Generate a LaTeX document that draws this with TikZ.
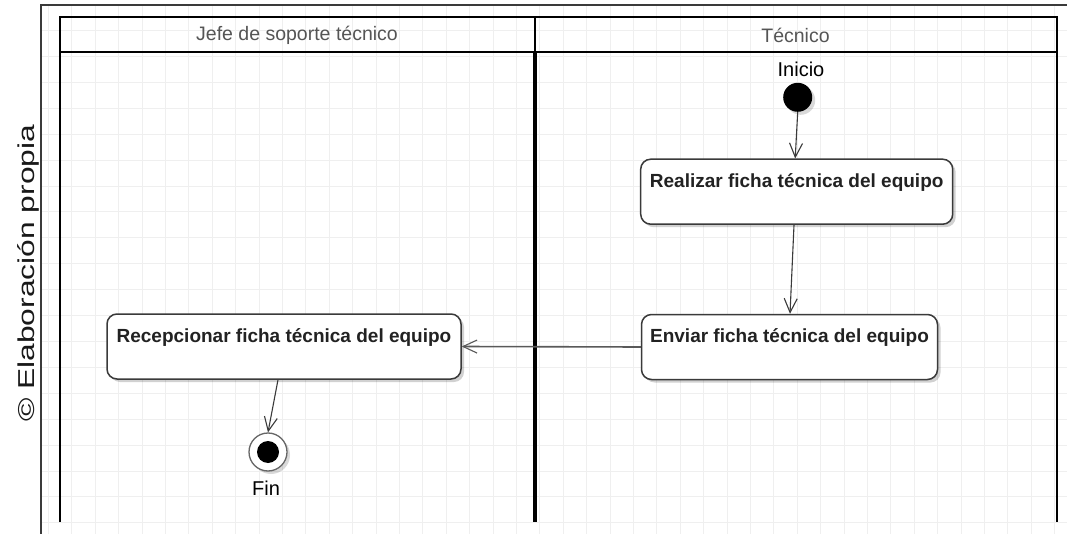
\documentclass[tikz,border=0pt]{standalone}
\usepackage{fontspec}
\usepackage{graphicx}
\setmainfont{Liberation Sans}
\usetikzlibrary{arrows.meta,shadows}
\definecolor{gridc}{HTML}{EFEFEF}
\definecolor{edgec}{HTML}{3A3A3A}
\definecolor{headc}{HTML}{555555}
\definecolor{txtc}{HTML}{222222}
\tikzset{
  actbox/.style={draw=edgec, line width=1.5pt, fill=white, rounded corners=10pt,
    inner sep=0pt, text height=28pt, text depth=37pt, text=txtc,
    font=\fontsize{19}{22}\selectfont\bfseries,
    drop shadow={shadow xshift=3pt, shadow yshift=-3pt, opacity=0.18, fill=black}},
  flow/.style={draw=edgec, line width=1.1pt, -{Straight Barb[length=14pt,width=13pt,line width=1.1pt]}},
  lanehead/.style={text=headc, font=\fontsize{19.5}{22}\selectfont, inner sep=0pt},
  statelbl/.style={text=black, font=\fontsize{20}{23}\selectfont, inner sep=0pt},
  lane/.style={line width=2.5pt, draw=black},
}
\begin{document}
\begin{tikzpicture}[x=1pt,y=-1pt]
\useasboundingbox (0,0) rectangle (1067,534);
\fill[white] (0,0) rectangle (1067,534);
% grid
\foreach \i in {0,...,43} {
  \draw[gridc, line width=0.8pt] ({48.3+23.4*\i},5) -- ({48.3+23.4*\i},534);
}
\foreach \j in {1,...,20} {
  \draw[gridc, line width=0.8pt] (41,{4.7+25.9*\j}) -- (1067,{4.7+25.9*\j});
}
% outer frame
\draw[edgec, line width=1.5pt] (41,534) -- (41,5) -- (1067,5);
% swimlanes
\draw[lane] (60,522) -- (60,17) -- (1057,17) -- (1057,522);
\draw[lane] (60,52) -- (1057,52);
\draw[black, line width=2pt] (535,17) -- (535,52);
\draw[black, line width=3.5pt] (535,52) -- (535,522);
\node[lanehead] (h1) at (297,35) {Jefe de soporte técnico};
\node[lanehead] (h2) at (795.5,35) {Técnico};
% copyright label
\node[rotate=90, anchor=base west, inner sep=0pt, text=black!90,
      font=\fontsize{23}{25}\selectfont] (copy) at (34,422)
  {\scalebox{1.38}[1]{© Elaboración propia}};
% initial state
\node[circle, fill=black, minimum size=29pt, inner sep=0pt,
      drop shadow={shadow xshift=3pt, shadow yshift=-3pt, opacity=0.15, fill=black}] (ini) at (797.7,97.3) {};
\node[statelbl, anchor=base] (inilbl) at (801,77) {Inicio};
% activities
\node[actbox, minimum width=312pt] (real) at (796.7,191.7) {Realizar ficha técnica del equipo};
\node[actbox, minimum width=296pt] (env) at (789.5,347) {Enviar ficha técnica del equipo};
\node[actbox, minimum width=354pt] (recep) at (284,346.5) {Recepcionar ficha técnica del equipo};
% final state
\node[circle, draw=black!60, line width=1.3pt, fill=white, minimum size=38pt, inner sep=0pt,
      drop shadow={shadow xshift=3pt, shadow yshift=-3pt, opacity=0.15, fill=black}] (fin) at (268,452) {};
\fill[black] (fin.center) circle (11pt);
\node[statelbl, anchor=base] (finlbl) at (266,495) {Fin};
% flows
\draw[flow] (ini.south) -- ([xshift=-1.5pt]real.north);
\draw[flow] ([xshift=-2.7pt]real.south) -- ([xshift=0.5pt]env.north);
\draw[flow, draw=black!65, line width=1.6pt] (env.west) -- (recep.east);
\draw[flow] ([xshift=-6pt]recep.south) -- (fin.north);
\end{tikzpicture}
\end{document}
